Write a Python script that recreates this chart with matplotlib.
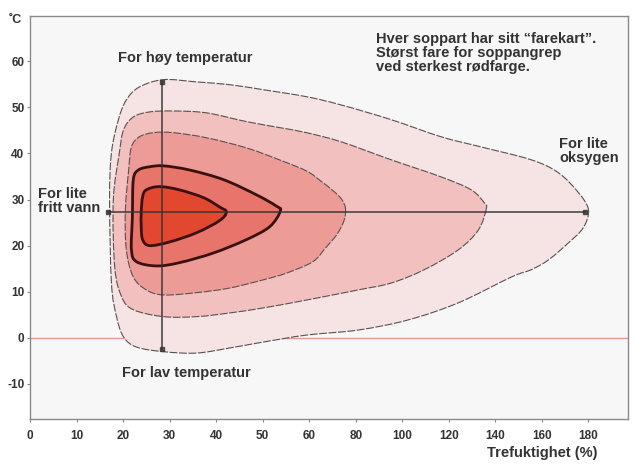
import matplotlib.pyplot as plt
import numpy as np
from matplotlib.path import Path
from matplotlib.patches import PathPatch

# x-axis is piecewise linear: 10 % per tick up to 60, then 20 % per tick
x_ticks = [0, 10, 20, 30, 40, 50, 60, 80, 100, 120, 140, 160, 180]
y_ticks = [-10, 0, 10, 20, 30, 40, 50, 60]

# risk zones, outermost (lowest risk) to innermost (highest risk)
zone1_x = [180.0, 177.8, 171.4, 162.8, 155.5, 146.9, 124.1, 102.6, 81.1, 59.4, 50.2, 42.9,
           35.8, 28.7, 22.9, 20.1, 18.6, 17.5, 17.1, 17.5, 19.0, 20.7, 23.5, 28.7, 35.8,
           42.9, 50.2, 59.4, 73.8, 95.3, 116.7, 133.9, 155.5, 167.1, 175.7]
zone1_y = [27.8, 23.9, 20.6, 16.9, 14.8, 13.2, 7.6, 3.9, 1.7, 0.6, -0.9, -2.2,
           -3.3, -3.0, -2.0, 0.2, 4.6, 11.9, 29.9, 40.1, 47.3, 51.6, 54.4, 56.0, 55.5,
           54.9, 53.8, 52.3, 50.5, 47.3, 43.6, 41.4, 38.6, 35.8, 31.5]

zone2_x = [136.1, 132.7, 124.1, 109.5, 95.3, 81.1, 59.4, 50.2, 42.9, 35.8, 28.7, 22.2,
           19.7, 18.2, 17.9, 19.2, 20.1, 22.2, 25.7, 30.8, 37.9, 46.5, 53.6, 59.4,
           73.8, 95.3, 116.7, 129.6, 135.2]
zone2_y = [28.0, 23.4, 19.1, 14.8, 11.9, 10.4, 8.2, 6.5, 5.4, 4.6, 4.6, 6.1,
           8.9, 15.4, 29.9, 40.1, 45.1, 47.9, 49.0, 49.2, 48.8, 46.9, 45.6, 44.5,
           42.5, 38.6, 34.9, 32.1, 29.3]

zone3_x = [75.6, 75.0, 72.0, 67.0, 61.5, 55.0, 50.2, 42.9, 35.8, 28.7, 25.0, 22.2, 20.7,
           20.5, 21.2, 21.8, 23.5, 26.5, 30.8, 37.9, 46.5, 53.6, 59.4, 65.0, 70.5, 74.0]
zone3_y = [28.0, 25.5, 22.5, 19.5, 16.5, 14.0, 12.6, 10.8, 9.8, 9.3, 10.4, 13.2, 19.1,
           27.8, 36.4, 41.4, 43.6, 44.5, 44.5, 43.4, 41.2, 38.6, 36.2, 34.0, 31.8, 30.0]

zone4_x = [53.8, 51.5, 46.5, 39.4, 32.1, 27.2, 22.9, 21.8, 22.0, 22.2, 23.3, 25.7,
           28.7, 34.3, 41.6, 48.7, 52.9]
zone4_y = [27.5, 24.1, 21.3, 18.4, 16.3, 15.6, 16.5, 19.1, 26.2, 34.3, 36.4, 37.1,
           37.3, 36.4, 34.3, 31.0, 28.6]

zone5_x = [42.2, 40.7, 35.8, 30.0, 25.7, 24.2, 23.9, 23.9, 24.2, 25.0, 27.8, 32.1,
           37.3, 40.7]
zone5_y = [27.3, 25.4, 22.8, 20.8, 20.0, 21.3, 24.1, 27.3, 30.6, 32.1, 32.8, 32.1,
           30.4, 28.4]

zone_colors = ["#f6e3e3", "#f2c0be", "#ec9b96", "#e7756b", "#e2472f"]

# optimum point and the extent of the outer zone
opt_x, opt_y = 28.3, 27.4
temp_range = [-2.4, 55.5]
moist_range = [16.8, 178.5]


def fwd(x):
    x = np.asarray(x, dtype=float)
    return np.where(x <= 60, x / 10.0, 6 + (x - 60) / 20.0)


def inv(u):
    u = np.asarray(u, dtype=float)
    return np.where(u <= 6, u * 10.0, 60 + (u - 6) * 20.0)


def smooth_path(xs, ys):
    """Closed bezier path through the points (catmull-rom style)."""
    # work in tick units so the curve bends evenly on both axis segments
    u = fwd(xs)
    v = np.asarray(ys, dtype=float) / 10.0
    pts = np.column_stack([u, v])
    n = len(pts)
    verts = [pts[0]]
    codes = [Path.MOVETO]
    for i in range(n):
        p0, p1 = pts[i - 1], pts[i]
        p2, p3 = pts[(i + 1) % n], pts[(i + 2) % n]
        verts += [p1 + (p2 - p0) / 6, p2 - (p3 - p1) / 6, p2]
        codes += [Path.CURVE4] * 3
    verts = np.array(verts)
    verts[:, 0] = inv(verts[:, 0])
    verts[:, 1] = verts[:, 1] * 10.0
    return Path(verts, codes)


plt.rcParams["font.family"] = ["Liberation Sans", "DejaVu Sans"]

fig = plt.figure(figsize=(6.36, 4.66), dpi=100)
ax = fig.add_axes([30 / 636, 1 - 419 / 466, 598 / 636, 403 / 466])
ax.set_facecolor("#f7f7f7")
ax.set_xscale("function", functions=(fwd, inv))
ax.set_xlim(0, 197)
ax.set_ylim(-17.6, 69.8)

ax.axhline(0, color="#e59a92", lw=1.0, zorder=1)

zones = [(zone1_x, zone1_y), (zone2_x, zone2_y), (zone3_x, zone3_y),
         (zone4_x, zone4_y), (zone5_x, zone5_y)]
for i, (zx, zy) in enumerate(zones):
    path = smooth_path(zx, zy)
    ax.add_patch(PathPatch(path, facecolor=zone_colors[i], lw=0, zorder=2 + i))
    if i < 3:
        ax.add_patch(PathPatch(path, fill=False, edgecolor="#5a5050", lw=0.8,
                               linestyle=(0, (7, 1.5)), zorder=2 + i))
    else:
        ax.add_patch(PathPatch(path, fill=False, edgecolor="#3a1010", lw=2.0,
                               zorder=2 + i))

ax.plot([opt_x, opt_x], temp_range, color="#333333", lw=1.3, alpha=0.8,
        marker="s", markersize=2.5, zorder=10)
ax.plot(moist_range, [opt_y, opt_y], color="#333333", lw=1.3, alpha=0.8,
        marker="s", markersize=2.5, zorder=10)

ax.set_xticks(x_ticks)
ax.set_xticklabels([str(t) for t in x_ticks])
ax.set_yticks(y_ticks)
ax.set_yticklabels([str(t) for t in y_ticks])
ax.tick_params(axis="both", colors="#888888", labelcolor="#333333",
               labelsize=8.5, length=2, direction="out")
ax.tick_params(axis="x", pad=6)
ax.tick_params(axis="y", pad=2)
for lbl in ax.get_xticklabels() + ax.get_yticklabels():
    lbl.set_fontweight("bold")
for spine in ["bottom", "top", "left", "right"]:
    ax.spines[spine].set_color("#8a8a8a")
    ax.spines[spine].set_linewidth(1.0)

fig.text(15 / 636, 1 - 20 / 466, "˚C", fontsize=9, ha="center", va="center",
         color="#333333", fontweight="bold")
fig.text(542 / 636, 1 - 453 / 466, "Trefuktighet (%)", fontsize=10.5,
         ha="center", va="center", color="#333333", fontweight="bold")

txt = dict(fontsize=10.5, color="#333333", fontweight="bold", zorder=12)
ax.text(33.4, 60.7, "For høy temperatur", ha="center", va="center", **txt)
ax.text(33.5, -7.6, "For lav temperatur", ha="center", va="center", **txt)
ax.text(1.8, 29.6, "For lite\nfritt vann", ha="left", va="center",
        linespacing=1.0, **txt)
ax.text(167.5, 40.6, "For lite\noksygen", ha="left", va="center",
        linespacing=1.0, **txt)
ax.text(88.9, 61.7, "Hver soppart har sitt “farekart”.\nStørst fare for soppangrep\n"
        "ved sterkest rødfarge.", ha="left", va="center", linespacing=1.0, **txt)

fig.savefig("out.png", dpi=100)
